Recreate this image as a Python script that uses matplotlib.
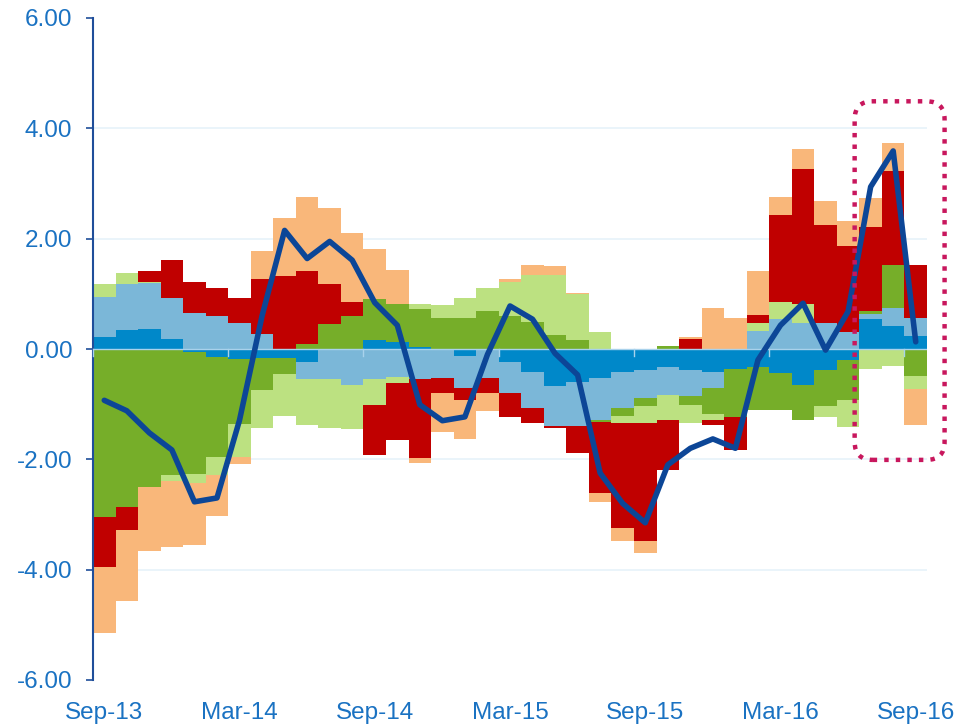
import matplotlib
matplotlib.use("Agg")
import matplotlib.pyplot as plt
import numpy as np
from matplotlib.patches import FancyBboxPatch

months = ["Sep-13","Oct-13","Nov-13","Dec-13","Jan-14","Feb-14","Mar-14","Apr-14","May-14","Jun-14",
          "Jul-14","Aug-14","Sep-14","Oct-14","Nov-14","Dec-14","Jan-15","Feb-15","Mar-15","Apr-15",
          "May-15","Jun-15","Jul-15","Aug-15","Sep-15","Oct-15","Nov-15","Dec-15","Jan-16","Feb-16",
          "Mar-16","Apr-16","May-16","Jun-16","Jul-16","Aug-16","Sep-16"]

dark_blue = [0.21, 0.34, 0.37, 0.19, -0.05, -0.15, -0.19, -0.16, -0.17, -0.23,
             -0.02, 0.00, 0.16, 0.13, 0.04, 0.00, -0.12, 0.00, -0.23, -0.41,
             -0.67, -0.59, -0.53, -0.41, -0.38, -0.32, -0.38, -0.41, -0.37, -0.33,
             -0.44, -0.65, -0.38, -0.20, 0.54, 0.42, 0.24]
light_blue = [0.73, 0.83, 0.82, 0.74, 0.65, 0.60, 0.48, 0.28, 0.00, -0.32,
              -0.53, -0.65, -0.55, -0.51, -0.55, -0.53, -0.59, -0.53, -0.57, -0.66,
              -0.72, -0.80, -0.76, -0.66, -0.51, -0.51, -0.48, -0.30, 0.00, 0.33,
              0.54, 0.48, 0.47, 0.30, 0.09, 0.32, 0.32]
dark_green = [-3.04, -2.86, -2.51, -2.28, -2.22, -1.80, -1.17, -0.58, -0.28, 0.09,
              0.45, 0.60, 0.74, 0.69, 0.68, 0.56, 0.57, 0.69, 0.59, 0.49,
              0.25, 0.16, -0.04, -0.14, -0.15, 0.05, -0.15, -0.47, -0.86, -0.77,
              -0.66, -0.64, -0.66, -0.72, 0.06, 0.79, -0.49]
light_green = [0.23, 0.20, 0.03, -0.11, -0.16, -0.33, -0.59, -0.70, -0.76, -0.83,
               -0.88, -0.80, -0.46, -0.11, 0.10, 0.24, 0.35, 0.42, 0.63, 0.85,
               1.09, 0.83, 0.30, -0.14, -0.31, -0.46, -0.34, -0.11, 0.00, 0.15,
               0.32, 0.33, -0.19, -0.49, -0.37, -0.31, -0.24]
red = [-0.92, -0.42, 0.19, 0.69, 0.56, 0.51, 0.44, 0.98, 1.32, 1.32,
       0.73, 0.26, -0.91, -1.03, -1.43, -0.26, -0.21, -0.27, -0.44, -0.28,
       -0.05, -0.50, -1.28, -1.90, -2.13, -0.90, 0.18, -0.09, -0.60, 0.14,
       1.57, 2.45, 1.78, 1.57, 1.53, 1.69, 0.97]
orange = [-1.18, -1.29, -1.16, -1.20, -1.12, -0.74, -0.13, 0.52, 1.06, 1.35,
          1.37, 1.24, 0.91, 0.61, -0.08, -0.71, -0.72, -0.33, 0.04, 0.18,
          0.17, 0.03, -0.16, -0.23, -0.22, 0.00, 0.03, 0.74, 0.56, 0.79,
          0.32, 0.36, 0.44, 0.45, 0.51, 0.52, -0.65]
total_line = [-0.93, -1.12, -1.52, -1.83, -2.77, -2.70, -1.29, 0.60, 2.15, 1.64,
              1.95, 1.61, 0.84, 0.43, -1.01, -1.30, -1.23, -0.10, 0.78, 0.54,
              -0.08, -0.47, -2.25, -2.80, -3.15, -2.10, -1.80, -1.63, -1.80, -0.20,
              0.43, 0.83, -0.02, 0.68, 2.94, 3.59, 0.13]

series = [dark_blue, light_blue, dark_green, light_green, red, orange]
colors = ["#0088c9", "#7bb7d8", "#76ae29", "#bce181", "#c00000", "#f9b77a"]

fig = plt.figure(figsize=(9.61, 7.27), dpi=100)
ax = fig.add_axes([93/961, 1-680/727, (927-93)/961, (680-18)/727])

x = np.arange(len(months))
pos_base = np.zeros(len(x))
neg_base = np.zeros(len(x))
for vals, c in zip(series, colors):
    v = np.array(vals, dtype=float)
    p = np.where(v > 0, v, 0)
    n = np.where(v < 0, v, 0)
    ax.bar(x, p, bottom=pos_base, width=1.0, color=c, linewidth=0, zorder=2)
    ax.bar(x, n, bottom=neg_base, width=1.0, color=c, linewidth=0, zorder=2)
    pos_base += p
    neg_base += n

ax.plot(x, total_line, color="#0c4697", linewidth=4.0, zorder=4, solid_capstyle="round", solid_joinstyle="round")

ax.set_xlim(-0.5, len(x) - 0.5)
ax.set_ylim(-6, 6)
yt = [-6, -4, -2, 0, 2, 4, 6]
ax.set_yticks(yt)
ax.set_yticklabels([f"{v:.2f}" for v in yt])
for v in [-4, -2, 2, 4]:
    ax.axhline(v, color="#e6f2fa", linewidth=1.2, zorder=1)
ax.axhline(0, color="#a9d2ec", linewidth=1.0, zorder=3)
for k in range(0, 37, 6):
    ax.plot([k - 0.5, k - 0.5], [0, -0.12], color="#a9d2ec", linewidth=1.0, zorder=3, clip_on=False)

xt = list(range(0, len(months), 6))
ax.set_xticks(xt)
ax.set_xticklabels([months[i] for i in xt])

tick_color = "#1a72c2"
for lab in ax.get_xticklabels() + ax.get_yticklabels():
    lab.set_fontfamily("Liberation Sans")
    lab.set_fontsize(17.5)
    lab.set_color(tick_color)
ax.tick_params(axis="x", length=0, pad=16)
ax.tick_params(axis="y", length=5, width=1.2, color="#1f4e9a", pad=10, direction="out")
for s in ["top", "right", "bottom"]:
    ax.spines[s].set_visible(False)
ax.spines["left"].set_color("#1f4e9a")
ax.spines["left"].set_linewidth(1.5)

# highlighted region (dotted rounded box)
x0, x1 = 33.29, 37.28
y0, y1 = -2.01, 4.49
box = FancyBboxPatch((x0, y0), x1 - x0, y1 - y0,
                     boxstyle="round,pad=0,rounding_size=0.8",
                     mutation_aspect=22.55/55.2,
                     fill=False, edgecolor="#c8175d", linewidth=3.2,
                     linestyle=(0, (1, 1.6)), zorder=5, clip_on=False)
ax.add_patch(box)

fig.savefig("out.png", dpi=100)
